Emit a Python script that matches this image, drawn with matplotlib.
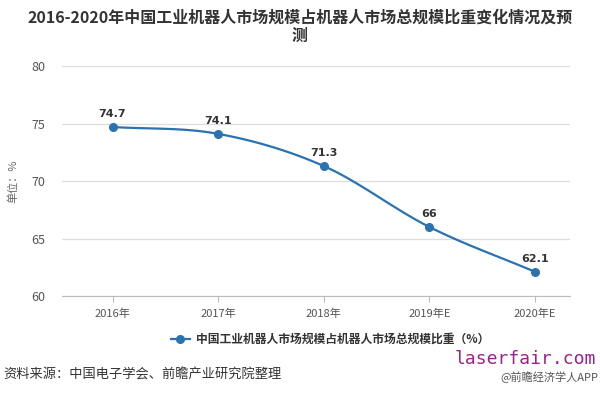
import matplotlib
matplotlib.use("Agg")
import matplotlib.pyplot as plt
from matplotlib.lines import Line2D
import numpy as np

plt.rcParams['font.family'] = ['Noto Sans CJK SC', 'DejaVu Sans']

years = ["2016年", "2017年", "2018年", "2019年E", "2020年E"]
share = [74.7, 74.1, 71.3, 66, 62.1]
labels = ["74.7", "74.1", "71.3", "66", "62.1"]
yticks = [60, 65, 70, 75, 80]

LINE = "#2a72b0"

def smooth(x, y, n=30):
    # hermite curve through the points (visual smoothing only)
    x = np.asarray(x, float); y = np.asarray(y, float)
    m = np.gradient(y, x)
    xs, ys = [], []
    for i in range(len(x) - 1):
        h = x[i+1] - x[i]
        t = np.linspace(0, 1, n)
        h00 = 2*t**3 - 3*t**2 + 1; h10 = t**3 - 2*t**2 + t
        h01 = -2*t**3 + 3*t**2; h11 = t**3 - t**2
        xs.append(x[i] + t*h)
        ys.append(h00*y[i] + h10*h*m[i] + h01*y[i+1] + h11*h*m[i+1])
    return np.concatenate(xs), np.concatenate(ys)

fig = plt.figure(figsize=(6, 3.95), dpi=100)
ax = fig.add_axes([0.103, 0.2506, 0.847, 0.5823])
xi = np.arange(len(years))
sx, sy = smooth(xi, share)
ax.plot(sx, sy, color=LINE, lw=1.6, zorder=3)
ax.plot(xi, share, "o", color=LINE, ms=5.5, zorder=4)
for x, v, t in zip(xi, share, labels):
    ax.text(x, v + 0.7, t, ha="center", va="bottom", fontsize=8,
            fontweight="bold", color="#333333", family="DejaVu Sans")

ax.set_xlim(-0.48, 4.33)
ax.set_ylim(60, 80)
ax.set_yticks(yticks)
ax.set_xticks(xi)
ax.set_xticklabels(years)
ax.grid(axis="y", color="#dddddd", lw=0.9)
ax.set_axisbelow(True)
for s in ["top", "right", "left"]:
    ax.spines[s].set_visible(False)
ax.spines["bottom"].set_color("#bbbbbb")
ax.tick_params(axis="y", length=0, labelsize=9, colors="#555555", pad=12)
ax.tick_params(axis="x", length=4, color="#bbbbbb", labelsize=8, colors="#555555", pad=5)
ax.set_ylabel("单位：%", fontsize=8, color="#666666", labelpad=9)

fig.text(0.5, 0.955, "2016-2020年中国工业机器人市场规模占机器人市场总规模比重变化情况及预",
         ha="center", va="center", fontsize=11.5, fontweight="bold", color="#333333")
fig.text(0.5, 0.91, "测", ha="center", va="center", fontsize=11.5, fontweight="bold", color="#333333")

handle = Line2D([], [], color=LINE, lw=1.6, marker="o", ms=5.5)
leg = fig.legend([handle], ["中国工业机器人市场规模占机器人市场总规模比重（%）"],
                 loc="center", bbox_to_anchor=(0.55, 0.14), frameon=False, fontsize=8.5,
                 handlelength=1.6, handletextpad=0.5)
for t in leg.get_texts():
    t.set_color("#333333"); t.set_fontweight("bold")

fig.text(0.005, 0.05, "资料来源：中国电子学会、前瞻产业研究院整理", ha="left", va="center",
         fontsize=9.5, color="#333333")
fig.text(0.997, 0.045, "@前瞻经济学人APP", ha="right", va="center", fontsize=8, color="#555555")
fig.text(0.993, 0.09, "laserfair.com", ha="right", va="center", fontsize=13,
         color="#a0208f", family="DejaVu Sans Mono")

fig.savefig("out.png", dpi=100, facecolor="white")
